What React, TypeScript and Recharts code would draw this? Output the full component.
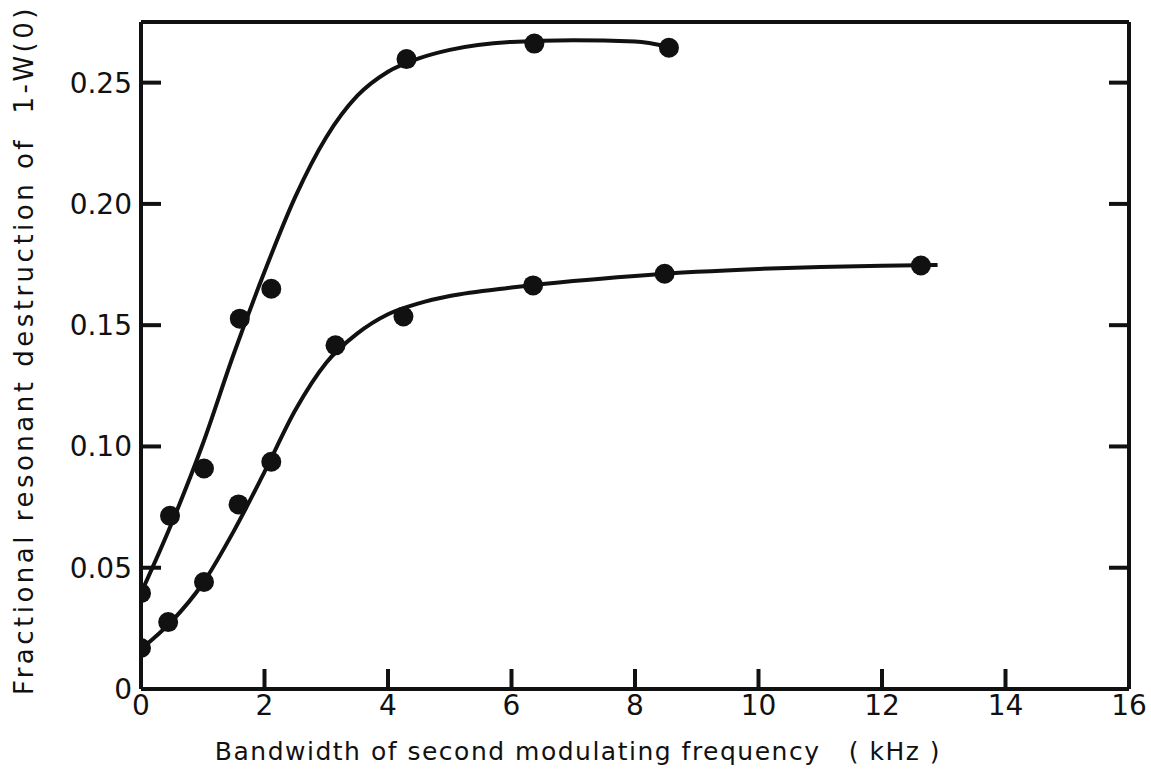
import {
  ComposedChart,
  Line,
  Scatter,
  XAxis,
  YAxis,
  Label,
} from 'recharts';

// Measured points: bandwidth (kHz) vs fractional destruction
const upperX = [0, 0.47, 1.02, 1.6, 2.11, 4.3, 6.37, 8.55];
const upperY = [0.0395, 0.0714, 0.0909, 0.1527, 0.165, 0.2597, 0.2661, 0.2644];

const lowerX = [0, 0.44, 1.02, 1.58, 2.11, 3.15, 4.25, 6.35, 8.48, 12.63];
const lowerY = [0.0169, 0.0276, 0.0441, 0.0761, 0.0937, 0.1417, 0.1536, 0.1664, 0.1712, 0.1746];

// Hand-fitted smooth curves through the data
const upperFitX = [0, 0.5, 1, 1.5, 2, 2.5, 3, 3.5, 4, 4.5, 5, 6, 7, 8, 8.55];
const upperFitY = [0.0395, 0.0685, 0.101, 0.138, 0.172, 0.203, 0.2275, 0.2445, 0.2545, 0.26, 0.2635, 0.2668, 0.2675, 0.267, 0.2648];

const lowerFitX = [0, 0.5, 1, 1.5, 2, 2.5, 3, 3.5, 4, 4.5, 5, 6, 7, 8, 9, 10, 11, 12, 12.9];
const lowerFitY = [0.0165, 0.028, 0.0435, 0.065, 0.0895, 0.115, 0.1345, 0.1465, 0.1545, 0.159, 0.162, 0.1655, 0.1682, 0.1703, 0.172, 0.1732, 0.174, 0.1745, 0.1748];

const xTicks = [0, 2, 4, 6, 8, 10, 12, 14, 16];
const yTicks = [0, 0.05, 0.1, 0.15, 0.2, 0.25];

const zip = (xs: number[], ys: number[]) => xs.map((x, i) => ({ x, y: ys[i] }));

const upperPts = zip(upperX, upperY);
const lowerPts = zip(lowerX, lowerY);
const upperFit = zip(upperFitX, upperFitY);
const lowerFit = zip(lowerFitX, lowerFitY);

const FONT = '"DejaVu Sans", sans-serif';
const INK = '#111';
const TICK_LEN = 20;
const FRAME_W = 4;

const Dot = (props: any) => <circle cx={props.cx} cy={props.cy} r={10} fill={INK} />;

const fmtY = (v: number) => (v === 0 ? '0' : v.toFixed(2));

// inward tick marks, with an optional label outside the frame
const BottomTick = (p: any) => (
  <g>
    <line x1={p.x} x2={p.x} y1={p.y} y2={p.y - TICK_LEN} stroke={INK} strokeWidth={FRAME_W} />
    <text x={p.x} y={p.y + 26} textAnchor="middle" fill={INK} fontSize={28} fontFamily={FONT}>
      {p.payload.value}
    </text>
  </g>
);
const TopTick = (p: any) => (
  <line x1={p.x} x2={p.x} y1={p.y} y2={p.y + TICK_LEN} stroke={INK} strokeWidth={FRAME_W} />
);
const LeftTick = (p: any) => (
  <g>
    <line x1={p.x} x2={p.x + TICK_LEN} y1={p.y} y2={p.y} stroke={INK} strokeWidth={FRAME_W} />
    <text x={p.x - 9} y={p.y + 10} textAnchor="end" fill={INK} fontSize={28} fontFamily={FONT}>
      {fmtY(p.payload.value)}
    </text>
  </g>
);
const RightTick = (p: any) => (
  <line x1={p.x} x2={p.x - TICK_LEN} y1={p.y} y2={p.y} stroke={INK} strokeWidth={FRAME_W} />
);

export default function App() {
  const axisStyle = { stroke: INK, strokeWidth: FRAME_W };
  return (
    <div style={{ position: 'absolute', left: 0, top: 0, background: '#fff' }}>
      <ComposedChart width={1151} height={778} margin={{ top: 0, right: 0, bottom: 0, left: 0 }}>
        <XAxis
          xAxisId="b"
          dataKey="x"
          type="number"
          domain={[0, 16]}
          ticks={xTicks}
          interval={0}
          allowDataOverflow
          height={89}
          axisLine={axisStyle}
          tickLine={false}
          tickSize={0}
          tickMargin={0}
          tick={BottomTick}
        >
          <Label
            content={() => (
              <text
                x={578}
                y={760}
                textAnchor="middle"
                fill={INK}
                fontSize={25}
                fontFamily={FONT}
                letterSpacing={1.5}
                style={{ whiteSpace: 'pre' }}
              >
                {'Bandwidth of second modulating frequency   ( kHz )'}
              </text>
            )}
          />
        </XAxis>
        <XAxis
          xAxisId="t"
          orientation="top"
          type="number"
          domain={[0, 16]}
          ticks={xTicks}
          interval={0}
          allowDataOverflow
          height={22}
          axisLine={axisStyle}
          tickLine={false}
          tickSize={0}
          tickMargin={0}
          tick={TopTick}
        />
        <YAxis
          yAxisId="l"
          type="number"
          domain={[0, 0.275]}
          ticks={yTicks}
          interval={0}
          allowDataOverflow
          width={141}
          axisLine={axisStyle}
          tickLine={false}
          tickSize={0}
          tickMargin={0}
          tick={LeftTick}
        >
          <Label
            content={() => (
              <text
                x={33}
                y={350}
                transform="rotate(-90 33 350)"
                textAnchor="middle"
                fill={INK}
                fontSize={26}
                fontFamily={FONT}
                letterSpacing={3.5}
                style={{ whiteSpace: 'pre' }}
              >
                {'Fractional resonant destruction of  1-W(0)'}
              </text>
            )}
          />
        </YAxis>
        <YAxis
          yAxisId="r"
          orientation="right"
          type="number"
          domain={[0, 0.275]}
          ticks={yTicks}
          interval={0}
          allowDataOverflow
          width={22}
          axisLine={axisStyle}
          tickLine={false}
          tickSize={0}
          tickMargin={0}
          tick={RightTick}
        />

        <Line
          xAxisId="b"
          yAxisId="l"
          data={upperFit}
          dataKey="y"
          type="monotone"
          stroke={INK}
          strokeWidth={4}
          dot={false}
          activeDot={false}
          isAnimationActive={false}
        />
        <Line
          xAxisId="b"
          yAxisId="l"
          data={lowerFit}
          dataKey="y"
          type="monotone"
          stroke={INK}
          strokeWidth={4}
          dot={false}
          activeDot={false}
          isAnimationActive={false}
        />
        <Scatter xAxisId="b" yAxisId="l" data={upperPts} dataKey="y" shape={Dot} isAnimationActive={false} />
        <Scatter xAxisId="b" yAxisId="l" data={lowerPts} dataKey="y" shape={Dot} isAnimationActive={false} />
      </ComposedChart>
    </div>
  );
}
